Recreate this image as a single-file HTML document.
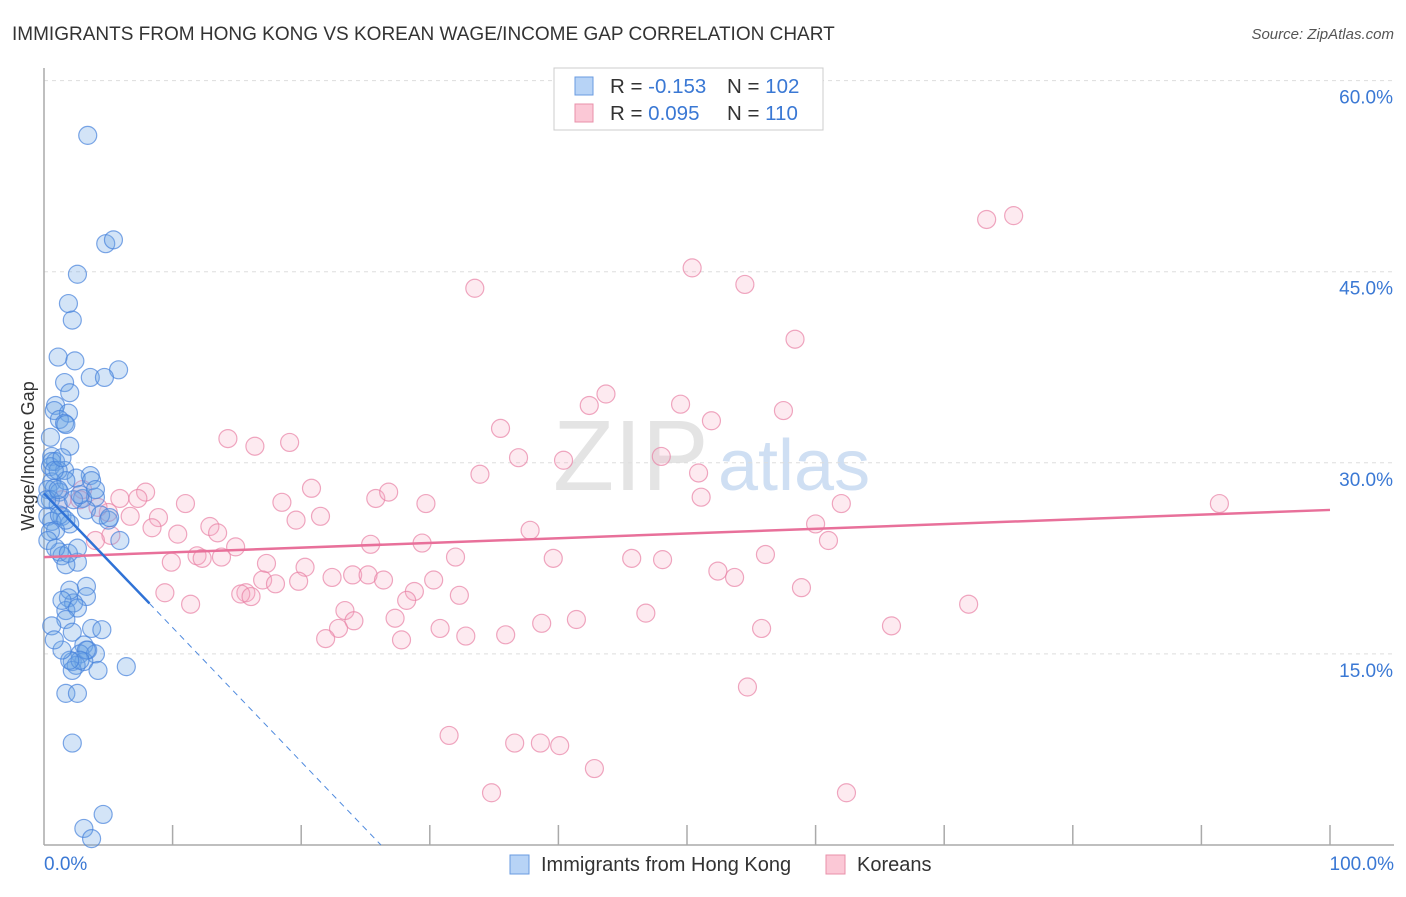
<!DOCTYPE html>
<html><head><meta charset="utf-8"><style>
body{margin:0;background:#fff;font-family:"Liberation Sans",sans-serif;}
svg text{font-family:"Liberation Sans",sans-serif;}
</style></head><body>
<svg id="chart" width="1406" height="892" xmlns="http://www.w3.org/2000/svg">
<text x="12" y="40" font-size="19" fill="#333">IMMIGRANTS FROM HONG KONG VS KOREAN WAGE/INCOME GAP CORRELATION CHART</text>
<text x="1394" y="39" font-size="15" fill="#555" font-style="italic" text-anchor="end">Source: ZipAtlas.com</text>
<text transform="translate(34,456) rotate(-90)" font-size="18" fill="#333" text-anchor="middle">Wage/Income Gap</text>
<g>
<text x="553" y="490" font-size="100" font-family="Liberation Serif" fill="#e4e4e4">ZIP</text>
<text x="718" y="490" font-size="72" fill="#cfdff3">atlas</text>
</g>
<g id="grid"></g>
<g id="axes"></g>
<g id="pts"></g>
<g id="trend"></g>
<g>
<rect x="554" y="68" width="269" height="62" fill="#fff" stroke="#ccc"/>
<rect x="575" y="77" width="18" height="18" fill="#b7d3f6" stroke="#6a9be0"/>
<rect x="575" y="104" width="18" height="18" fill="#fbc8d6" stroke="#e890aa"/>
<text x="610" y="93" font-size="20.5" fill="#333">R = <tspan fill="#3a78d4">-0.153</tspan></text>
<text x="727" y="93" font-size="20.5" fill="#333">N = <tspan fill="#3a78d4">102</tspan></text>
<text x="610" y="120" font-size="20.5" fill="#333">R = <tspan fill="#3a78d4"> 0.095</tspan></text>
<text x="727" y="120" font-size="20.5" fill="#333">N = <tspan fill="#3a78d4"> 110</tspan></text>
</g>
<g>
<rect x="510" y="855" width="19" height="19" fill="#b7d3f6" stroke="#6a9be0"/>
<text x="541" y="871" font-size="20" fill="#333">Immigrants from Hong Kong</text>
<rect x="826" y="855" width="19" height="19" fill="#fbc8d6" stroke="#e890aa"/>
<text x="857" y="871" font-size="20" fill="#333">Koreans</text>
</g>
</svg>
<script>
const yTicks=[15,30,45,60];
const yTickLabels=["15.0%","30.0%","45.0%","60.0%"];
const xTicks=[0,10,20,30,40,50,60,70,80,90,100];
const blueX=[3.4,4.8,5.4,2.6,1.9,2.2,1.1,2.4,5.8,3.6,4.7,1.6,2.0,0.9,0.8,1.9,1.2,1.6,1.7,0.5,2.0,0.6,0.9,0.5,1.6,3.6,2.5,0.6,0.8,0.3,1.2,4.0,3.0,0.5,1.1,3.3,0.3,1.4,5.0,0.6,2.0,0.9,0.5,5.9,1.2,1.4,2.6,1.7,3.3,1.9,3.3,2.3,1.7,2.6,1.7,0.6,3.7,4.5,2.2,3.1,3.4,2.8,4.0,2.2,3.1,2.5,2.2,4.2,6.4,1.7,2.6,2.2,4.6,3.1,3.7,0.6,1.1,1.7,0.2,1.1,0.8,1.4,2.3,2.8,1.2,1.7,0.3,0.9,1.9,2.6,2.0,1.4,3.3,2.8,2.0,1.4,0.8,3.7,4.0,4.4,5.1];
const blueY=[55.7,47.2,47.5,44.8,42.5,41.2,38.3,38.0,37.3,36.7,36.7,36.3,35.5,34.5,34.1,33.9,33.4,33.1,33.0,32.0,31.3,30.5,30.1,29.7,29.4,29.0,28.8,28.5,28.0,27.9,27.7,27.3,27.2,27.1,26.7,26.3,25.8,25.8,25.5,25.4,25.2,24.7,24.6,23.9,23.0,22.7,22.2,22.0,20.3,19.4,19.5,19.0,18.4,18.6,17.7,17.2,17.0,16.9,16.7,15.7,15.3,15.0,15.0,14.4,14.4,14.1,13.7,13.7,14.0,11.9,11.9,8.0,2.4,1.3,0.5,30.1,29.4,28.6,27.1,27.9,29.4,30.4,27.1,27.5,25.9,25.5,23.9,23.3,22.9,23.3,20.0,19.2,15.3,14.5,14.5,15.3,16.1,28.6,27.9,25.9,25.7];
const pinkX=[73.3,75.4,50.4,54.5,33.5,58.4,43.7,42.4,49.5,57.5,51.9,35.5,14.3,16.4,19.1,36.9,40.4,48.0,33.9,50.9,20.8,25.8,26.8,51.1,62.0,91.4,29.7,18.5,5.9,7.9,7.3,11.0,5.0,6.7,8.9,4.2,3.0,1.4,2.8,21.5,19.6,12.9,10.4,8.4,13.5,37.8,60.0,5.2,4.0,14.9,25.4,29.4,61.0,11.9,12.3,13.8,32.0,39.6,45.7,48.1,56.1,17.3,20.3,9.9,52.4,17.0,53.7,22.4,24.0,25.2,26.4,19.8,18.0,30.3,15.7,15.3,16.1,9.4,28.8,28.2,32.3,58.9,11.4,23.4,71.9,46.8,24.1,27.3,41.4,38.7,65.9,22.9,30.8,55.8,32.8,35.9,21.9,27.8,54.7,31.5,36.6,38.6,40.1,42.8,34.8,62.4];
const pinkY=[49.1,49.4,45.3,44.0,43.7,39.7,35.4,34.5,34.6,34.1,33.3,32.7,31.9,31.3,31.6,30.4,30.2,30.5,29.1,29.2,28.0,27.2,27.7,27.3,26.8,26.8,26.8,26.9,27.2,27.7,27.2,26.8,26.1,25.8,25.7,26.5,27.9,27.1,27.1,25.8,25.5,25.0,24.4,24.9,24.5,24.7,25.2,24.3,23.9,23.4,23.6,23.7,23.9,22.7,22.5,22.6,22.6,22.5,22.5,22.4,22.8,22.1,21.8,22.2,21.5,20.8,21.0,21.0,21.2,21.2,20.8,20.7,20.5,20.8,19.8,19.7,19.5,19.8,19.9,19.2,19.6,20.2,18.9,18.4,18.9,18.2,17.6,17.8,17.7,17.4,17.2,17.0,17.0,17.0,16.4,16.5,16.2,16.1,12.4,8.6,8.0,8.0,7.8,6.0,4.1,4.1];
const pinkTrend=[22.6,26.3];
const blueTrend=[27.6,0];
const blueZeroX=26.2, blueSolidEnd=8.2;

const X=v=>44+v*12.86, Y=v=>845-v*12.74;
const NS="http://www.w3.org/2000/svg";
function mk(tag,attrs,parent){const e=document.createElementNS(NS,tag);for(const k in attrs)e.setAttribute(k,attrs[k]);parent.appendChild(e);return e;}
const grid=document.getElementById('grid'),axes=document.getElementById('axes'),pts=document.getElementById('pts'),trend=document.getElementById('trend');
yTicks.forEach((t,i)=>{
  const l=mk('line',{x1:44,x2:1394,y1:Y(t),y2:Y(t),stroke:'#ddd','stroke-dasharray':'4,4'},grid);
  
  
  const tx=mk('text',{x:1393,y:Y(t)+23,'font-size':19,fill:'#3a78d4','text-anchor':'end'},axes);
  tx.textContent=yTickLabels[i];
  
  
});
const ya=mk('line',{x1:44,x2:44,y1:68,y2:845,stroke:'#aaa','stroke-width':1.5},axes);


const xa=mk('line',{x1:44,x2:1394,y1:845,y2:845,stroke:'#aaa','stroke-width':1.5},axes);


xTicks.forEach(t=>{
  if(t===0)return;
  const l=mk('line',{x1:X(t),x2:X(t),y1:825,y2:845,stroke:'#aaa','stroke-width':1.5},axes);
  
  
});
const x0=mk('text',{x:44,y:870,'font-size':19,fill:'#3a78d4'},axes);x0.textContent='0.0%';


const x1=mk('text',{x:1394,y:870,'font-size':19,fill:'#3a78d4','text-anchor':'end'},axes);x1.textContent='100.0%';


pinkX.forEach((v,i)=>{
  const c=mk('circle',{cx:X(v),cy:Y(pinkY[i]),r:9,fill:'rgba(248,170,195,0.25)',stroke:'rgba(232,130,165,0.7)','stroke-width':1.2},pts);
  
  
});
blueX.forEach((v,i)=>{
  const c=mk('circle',{cx:X(v),cy:Y(blueY[i]),r:9,fill:'rgba(110,165,230,0.3)',stroke:'rgba(70,130,220,0.7)','stroke-width':1.2},pts);
  
  
});
const pt=mk('line',{x1:X(0),y1:Y(pinkTrend[0]),x2:X(100),y2:Y(pinkTrend[1]),stroke:'#e8709a','stroke-width':2.5},trend);


const by=x=>blueTrend[0]+(blueTrend[1]-blueTrend[0])*x/blueZeroX;
const bt=mk('line',{x1:X(0),y1:Y(by(0)),x2:X(blueSolidEnd),y2:Y(by(blueSolidEnd)),stroke:'#2f72d6','stroke-width':2.5},trend);


const bd=mk('line',{x1:X(blueSolidEnd),y1:Y(by(blueSolidEnd)),x2:X(blueZeroX),y2:Y(0),stroke:'#4f8ade','stroke-width':1,'stroke-dasharray':'6,5'},trend);


</script>
</body></html>
